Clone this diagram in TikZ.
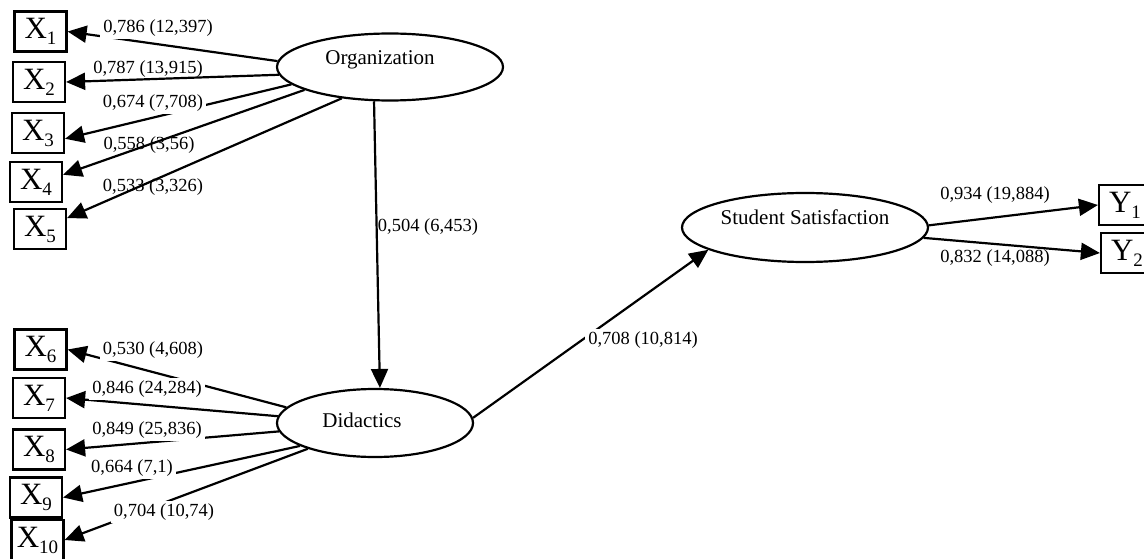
\documentclass[tikz,border=0pt]{standalone}
\usepackage{fontspec}
\setmainfont{Liberation Serif}
\usetikzlibrary{arrows.meta,shapes.geometric}
\newcommand{\lowidx}[1]{\raisebox{-6pt}{\fontsize{19}{19}\selectfont #1}}

\begin{document}
\begin{tikzpicture}[x=1pt, y=-1pt, line width=2.2pt,
  >={Triangle[length=19pt,width=17pt]},
  ind/.style={draw, rectangle, minimum width=52pt, minimum height=40pt, inner sep=0pt,
    font=\fontsize{31}{31}\selectfont},
  lat/.style={draw, ellipse, inner sep=0pt},
  lattext/.style={inner sep=0pt, font=\fontsize{21}{23}\selectfont},
  coef/.style={inner sep=1pt, font=\fontsize{18.5}{20}\selectfont},
  coefw/.style={coef, fill=white, inner sep=3pt}]
  \useasboundingbox (0,0) rectangle (1144,559);
  % latent variables
  \node[lat, minimum width=226pt, minimum height=67pt] (org) at (390,67) {};
  \node[lattext] (orgtxt) at ([xshift=-10pt,yshift=7pt]org.center) {Organization};
  \node[lat, minimum width=196pt, minimum height=68pt] (did) at (375,423) {};
  \node[lattext] (didtxt) at ([xshift=-13pt,yshift=3pt]did.center) {Didactics};
  \node[lat, minimum width=246pt, minimum height=69pt] (sat) at (805,227.5) {};
  \node[lattext] (sattxt) at ([yshift=10pt]sat.center) {Student Satisfaction};
  % indicators
  \node[ind] (x1) at (40.5,31.5) {X\lowidx{1}};
  \node[ind] (x2) at (39,82) {X\lowidx{2}};
  \node[ind] (x3) at (38,133) {X\lowidx{3}};
  \node[ind] (x4) at (36,182) {X\lowidx{4}};
  \node[ind] (x5) at (40,229) {X\lowidx{5}};
  \node[ind] (x6) at (40.5,349.5) {X\lowidx{6}};
  \node[ind] (x7) at (39,398) {X\lowidx{7}};
  \node[ind] (x8) at (39,449.5) {X\lowidx{8}};
  \node[ind] (x9) at (36,497.5) {X\lowidx{9}};
  \node[ind] (x10) at (37.5,540) {X\lowidx{10}};
  \node[ind] (y1) at (1125,205) {Y\lowidx{1}};
  \node[ind] (y2) at (1127,253) {Y\lowidx{2}};
  % loadings of Organization
  \draw[->] (org.177.5) -- (x1.east);
  \draw[->] (org.184.6) -- (x2.east);
  \draw[->] (org.190.6) -- (x3.348);
  \draw[->] (org.195.8) -- (x4.15);
  \draw[->] (org.213) -- (x5.22);
  % loadings of Didactics
  \draw[->] (did.170.8) -- (x6.east);
  \draw[->] (did.176.9) -- (x7.east);
  \draw[->] (did.185.2) -- (x8.east);
  \draw[->] (did.197.5) -- (x9.east);
  \draw[->] (did.201) -- (x10.east);
  % loadings of Student Satisfaction
  \draw[->] (sat.1) -- (y1.west);
  \draw[->] (sat.355.5) -- (y2.west);
  % structural paths
  \draw[->] (org.245.6) -- (did.82);
  \draw[->] (did.3) -- (sat.193);
  % coefficients
  \node[coefw] (c1) at (158,28) {0,786 (12,397)};
  \node[coef] (c2) at (148,69) {0,787 (13,915)};
  \node[coefw] (c3) at (153,103) {0,674 (7,708)};
  \node[coef] (c4) at (149,145) {0,558 (3,56)};
  \node[coef] (c5) at (153,187) {0,533 (3,326)};
  \node[coefw] (c6) at (153,350) {0,530 (4,608)};
  \node[coefw] (c7) at (147,389) {0,846 (24,284)};
  \node[coefw] (c8) at (147,430) {0,849 (25,836)};
  \node[coefw] (c9) at (132,468) {0,664 (7,1)};
  \node[coefw] (c10) at (164,512) {0,704 (10,74)};
  \node[coef] (c11) at (428,227) {0,504 (6,453)};
  \node[coefw] (c12) at (643,340) {0,708 (10,814)};
  \node[coefw] (c13) at (995,195) {0,934 (19,884)};
  \node[coef] (c14) at (995,258) {0,832 (14,088)};
\end{tikzpicture}
\end{document}
